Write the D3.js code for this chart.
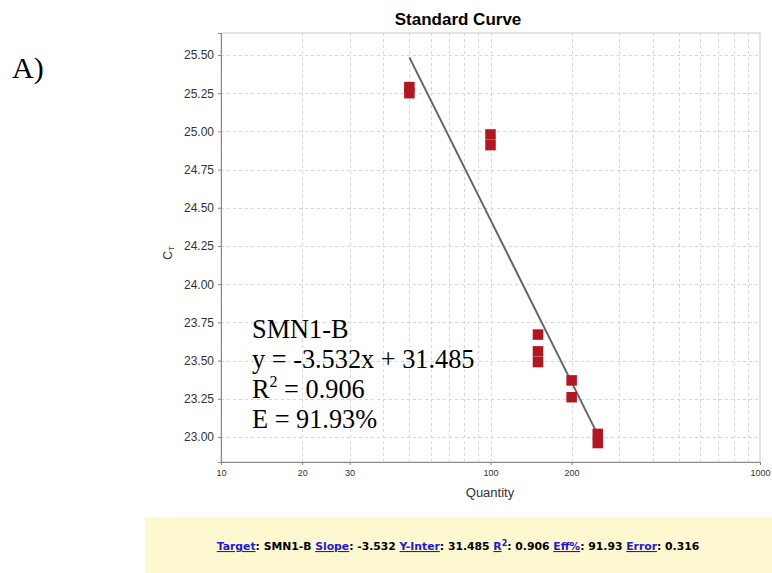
<!DOCTYPE html>
<html>
<head>
<meta charset="utf-8">
<script src="https://cdn.jsdelivr.net/npm/d3@7"></script>
<style>
  html, body { margin: 0; padding: 0; background: #fff; }
  svg { display: block; }
</style>
</head>
<body>
<svg id="chart" width="772" height="573"></svg>
<script>
// Standard curve samples: quantity vs threshold cycle
const quantities = [50, 50, 100, 100, 150, 150, 150, 200, 200, 250, 250];
const ctValues = [25.29, 25.25, 24.98, 24.91, 23.67, 23.56, 23.49, 23.37, 23.26, 23.02, 22.96];

// Regression results
const targetName = "SMN1-B";
const slope = -3.532;
const intercept = 31.485;
const rSquared = 0.906;
const efficiency = 91.93;
const fitError = 0.316;

const yTickValues = [23.00, 23.25, 23.50, 23.75, 24.00, 24.25, 24.50, 24.75, 25.00, 25.25, 25.50];
const xTickLabels = [10, 20, 30, 100, 200, 1000];

const svg = d3.select("#chart");
const plotLeft = 221, plotTop = 33, plotRight = 760, plotBottom = 462;

const x = d3.scaleLog().domain([10, 1000]).range([plotLeft, plotRight]);
const y = d3.scaleLinear().domain([22.836, 25.644]).range([plotBottom, plotTop]);

// Panel label
svg.append("text").attr("x", 12).attr("y", 78)
  .attr("font-family", "Liberation Serif, Times New Roman, serif")
  .attr("font-size", 30).attr("fill", "#000").text("A)");

// Title
svg.append("text").attr("x", 458).attr("y", 25).attr("text-anchor", "middle")
  .attr("font-family", "Liberation Sans, Arial, sans-serif").attr("font-weight", "bold")
  .attr("font-size", 17).attr("fill", "#000").text("Standard Curve");

// Plot frame
svg.append("rect").attr("x", plotLeft).attr("y", plotTop)
  .attr("width", plotRight - plotLeft).attr("height", plotBottom - plotTop)
  .attr("fill", "#fff").attr("stroke", "#c8c8c8").attr("stroke-width", 1);

// Grid lines
const gridX = x.ticks(); // 10,20,...,100,200,...,1000
svg.append("g").selectAll("line").data(gridX.filter(d => d > 10 && d < 1000)).join("line")
  .attr("x1", d => Math.round(x(d)) + 0.5).attr("x2", d => Math.round(x(d)) + 0.5)
  .attr("y1", plotTop).attr("y2", plotBottom)
  .attr("stroke", "#d6d6d6").attr("stroke-dasharray", "3,3");
svg.append("g").selectAll("line").data(yTickValues).join("line")
  .attr("x1", plotLeft).attr("x2", plotRight)
  .attr("y1", d => Math.round(y(d)) + 0.5).attr("y2", d => Math.round(y(d)) + 0.5)
  .attr("stroke", "#d6d6d6").attr("stroke-dasharray", "3,3");

// Y axis
const yAxis = svg.append("g").attr("transform", `translate(${plotLeft},0)`)
  .call(d3.axisLeft(y).tickValues(yTickValues).tickFormat(d3.format(".2f")).tickSize(3).tickPadding(4));
yAxis.select(".domain").attr("stroke", "#888");
yAxis.selectAll(".tick line").attr("stroke", "#888");
yAxis.selectAll(".tick text").attr("font-family", "Liberation Sans, Arial, sans-serif")
  .attr("font-size", 12).attr("fill", "#333");

// X axis
const xAxis = svg.append("g").attr("transform", `translate(0,${plotBottom})`)
  .call(d3.axisBottom(x).tickValues(xTickLabels).tickFormat(d3.format("d")).tickSize(3).tickPadding(5));
xAxis.select(".domain").attr("stroke", "#888");
xAxis.selectAll(".tick line").attr("stroke", "#888");
xAxis.selectAll(".tick text").attr("font-family", "Liberation Sans, Arial, sans-serif")
  .attr("font-size", 9).attr("fill", "#333");

// Axis titles
svg.append("text").attr("x", 490).attr("y", 497).attr("text-anchor", "middle")
  .attr("font-family", "Liberation Sans, Arial, sans-serif").attr("font-size", 13)
  .attr("fill", "#333").text("Quantity");
const yl = svg.append("text").attr("transform", "translate(172,253) rotate(-90)")
  .attr("text-anchor", "middle")
  .attr("font-family", "Liberation Sans, Arial, sans-serif").attr("font-size", 12).attr("fill", "#333");
yl.append("tspan").text("C");
yl.append("tspan").attr("font-size", 8).attr("dy", 2).text("T");

// Fitted line from the stated regression
const xExt = d3.extent(quantities);
const fit = q => slope * Math.log10(q) + intercept;
svg.append("line")
  .attr("x1", x(xExt[0])).attr("y1", y(fit(xExt[0])))
  .attr("x2", x(xExt[1])).attr("y2", y(fit(xExt[1])))
  .attr("stroke", "#666").attr("stroke-width", 2);

// Sample markers
const sz = 10.5;
svg.append("g").selectAll("rect").data(quantities.map((q, i) => [q, ctValues[i]])).join("rect")
  .attr("x", d => x(d[0]) - sz / 2).attr("y", d => y(d[1]) - sz / 2)
  .attr("width", sz).attr("height", sz).attr("fill", "#b3161f");

// Equation annotation
const ann = svg.append("g").attr("font-family", "Liberation Serif, Times New Roman, serif")
  .attr("font-size", 26.3).attr("fill", "#000");
ann.append("text").attr("x", 252).attr("y", 338).text(targetName);
ann.append("text").attr("x", 252).attr("y", 368).text(`y = ${slope}x + ${intercept}`);
const r2 = ann.append("text").attr("x", 252).attr("y", 398);
r2.append("tspan").text("R");
r2.append("tspan").attr("font-size", 16).attr("dy", -11).text("2");
r2.append("tspan").attr("dy", 11).text(` = ${rSquared}`);
ann.append("text").attr("x", 252).attr("y", 428).text(`E = ${efficiency}%`);

// Summary bar
svg.append("rect").attr("x", 145).attr("y", 517).attr("width", 627).attr("height", 56)
  .attr("fill", "#fdf8d0");
const summary = [
  ["Target", `: ${targetName} `], ["Slope", `: ${slope} `], ["Y-Inter", `: ${intercept} `],
  ["R2", `: ${rSquared} `], ["Eff%", `: ${efficiency} `], ["Error", `: ${fitError}`]
];
const st = svg.append("text").attr("x", 458).attr("y", 550).attr("text-anchor", "middle")
  .attr("font-family", "DejaVu Sans, Verdana, sans-serif").attr("font-weight", "bold")
  .attr("font-size", 10.8).attr("fill", "#000");
summary.forEach(([k, v]) => {
  if (k === "R2") {
    st.append("tspan").attr("fill", "#1a1adc").attr("text-decoration", "underline").text("R");
    st.append("tspan").attr("fill", "#1a1adc").attr("font-size", 8).attr("dy", -4).text("2");
    st.append("tspan").attr("dy", 4).text(v);
  } else {
    st.append("tspan").attr("fill", "#1a1adc").attr("text-decoration", "underline").text(k);
    st.append("tspan").text(v);
  }
});
</script>
</body>
</html>
